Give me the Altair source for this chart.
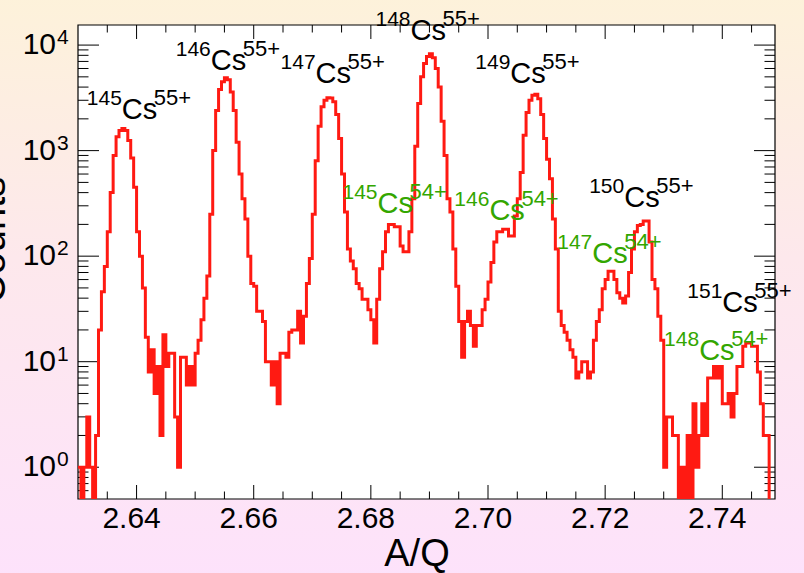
import altair as alt
import pandas as pd

FONT = "Liberation Sans"
RED = "#ff1a12"
GREEN = "#33a600"

# ---------------- data ----------------
bin_start = 2.63
bin_width = 0.0005
counts = [
    1, 0, 1, 3, 1, 0, 2, 20, 46, 80,
    170, 400, 900, 1350, 1550, 1620, 1550, 1250, 850, 450,
    170, 100, 50, 17, 8, 13, 5, 9, 2, 18,
    9, 12, 12, 3, 1, 11, 11, 6, 9, 6,
    12, 16, 25, 40, 65, 250, 1000, 2400, 3800, 4500,
    4900, 4700, 3600, 2400, 1200, 600, 350, 225, 100, 55,
    52, 30, 30, 24, 10, 10, 6, 10, 4, 12,
    12, 11, 19, 20, 20, 30, 15, 27, 55, 95,
    250, 800, 1700, 2600, 3000, 3170, 3150, 2900, 2200, 1300,
    600, 262, 117, 90, 76, 55, 49, 39, 39, 31,
    25, 15, 39, 76, 110, 170, 200, 200, 190, 190,
    125, 110, 110, 170, 350, 1100, 2800, 5000, 6700, 7800,
    8300, 7600, 6000, 4000, 1900, 900, 350, 262, 117, 52,
    24, 11, 24, 30, 22, 14, 22, 22, 31, 39,
    57, 87, 136, 170, 170, 180, 180, 155, 155, 240,
    350, 620, 1400, 2300, 3000, 3350, 3430, 3100, 2200, 1300,
    830, 540, 225, 117, 30, 22, 19, 16, 13, 11,
    7, 8, 10, 10, 7, 8, 16, 24, 31, 49,
    60, 72, 72, 60, 45, 40, 36, 42, 70, 117,
    170, 195, 200, 215, 215, 136, 60, 49, 27, 16,
    1, 3, 3, 2, 2, 0, 1, 0, 2, 0,
    4, 1, 2, 4, 2, 7, 7, 9, 7, 9,
    4, 4, 5, 3, 5, 9, 9, 14, 15, 15,
    14, 14, 8, 4, 2, 2, 0, 0,
]

x_tick_values = [2.64, 2.66, 2.68, 2.70, 2.72, 2.74]
x_tick_text = ["2.64", "2.66", "2.68", "2.70", "2.72", "2.74"]
x_minor = [2.635, 2.645, 2.65, 2.655, 2.665, 2.67, 2.675, 2.685, 2.69, 2.695,
           2.705, 2.71, 2.715, 2.725, 2.73, 2.735, 2.745]
y_major = [1, 10, 100, 1000, 10000]
y_exponents = ["0", "1", "2", "3", "4"]
y_minor = [0.6, 0.7, 0.8, 0.9,
           2, 3, 4, 5, 6, 7, 8, 9,
           20, 30, 40, 50, 60, 70, 80, 90,
           200, 300, 400, 500, 600, 700, 800, 900,
           2000, 3000, 4000, 5000, 6000, 7000, 8000, 9000]
x_title = "A/Q"
y_title = "Counts"

lab_x = [2.63766, 2.65284, 2.67074, 2.68694, 2.70399, 2.72343, 2.74018,
         2.68131, 2.70041, 2.71797, 2.73622]
lab_y = [1990, 5800, 4370, 11170, 4370, 292, 29.6,
         256, 220, 86, 10.4]
lab_mass = ["145", "146", "147", "148", "149", "150", "151",
            "145", "146", "147", "148"]
lab_charge = ["55+", "55+", "55+", "55+", "55+", "55+", "55+",
              "54+", "54+", "54+", "54+"]
lab_elem = ["Cs"] * 11
lab_color = ["black"] * 7 + [GREEN] * 4

# ---------------- tables ----------------
n = len(counts)
edges = [bin_start + bin_width * i for i in range(n + 1)]
hist = pd.DataFrame({"x": edges, "count": counts + [counts[-1]]})
ann = pd.DataFrame({"x": lab_x, "y": lab_y, "mass": lab_mass, "charge": lab_charge,
                    "elem": lab_elem, "color": lab_color})
ylab = pd.DataFrame({"v": y_major, "e": y_exponents})
xlab = pd.DataFrame({"v": x_tick_values, "t": x_tick_text})
one = pd.DataFrame({"a": [0]})

W, H = 697, 474
xs = alt.Scale(domain=[2.63, 2.749], nice=False, zero=False)
ys = alt.Scale(type="log", domain=[0.5, 15500], nice=False)

# ---------------- layers ----------------
bg = alt.Chart(one).mark_rect(
    fill=alt.Gradient(gradient="linear", x1=0, x2=0, y1=0, y2=1,
                      stops=[alt.GradientStop(color="#fdf2da", offset=0),
                             alt.GradientStop(color="#fde8ec", offset=0.45),
                             alt.GradientStop(color="#fde2fb", offset=1)])
).encode(x=alt.value(-80), x2=alt.value(W + 40), y=alt.value(-30), y2=alt.value(H + 80))

frame = alt.Chart(one).mark_rect(fill="white", stroke="black", strokeWidth=1.2).encode(
    x=alt.value(0), x2=alt.value(W), y=alt.value(0), y2=alt.value(H))


def vticks(vals, y1, y2):
    return alt.Chart(pd.DataFrame({"v": vals})).mark_rule(color="black", strokeWidth=1).encode(
        x=alt.X("v:Q", scale=xs, axis=None), y=alt.value(y1), y2=alt.value(y2))


def hticks(vals, x1, x2):
    return alt.Chart(pd.DataFrame({"v": vals})).mark_rule(color="black", strokeWidth=1).encode(
        y=alt.Y("v:Q", scale=ys, axis=None), x=alt.value(x1), x2=alt.value(x2))


ticks = [
    vticks(x_tick_values, H, H - 14), vticks(x_minor, H, H - 7.5),
    vticks(x_tick_values, 0, 14), vticks(x_minor, 0, 7.5),
    hticks(y_major, 0, 21), hticks(y_minor, 0, 10.5),
    hticks(y_major, W, W - 21), hticks(y_minor, W, W - 10.5),
]

line = alt.Chart(hist).transform_calculate(
    c="max(datum.count, 0.01)"
).mark_line(interpolate="step-after", color=RED, strokeWidth=3, clip=True).encode(
    x=alt.X("x:Q", scale=xs, axis=None),
    y=alt.Y("c:Q", scale=ys, axis=None),
)

xtext = alt.Chart(xlab).mark_text(
    align="center", baseline="alphabetic", dx=-5, font=FONT, fontSize=30, color="black"
).encode(x=alt.X("v:Q", scale=xs, axis=None), y=alt.value(H + 28.5), text="t:N")
xtitle = alt.Chart(one).mark_text(
    align="center", baseline="alphabetic", font=FONT, fontSize=38, color="black"
).encode(x=alt.value(339), y=alt.value(H + 67), text=alt.value(x_title))

ytext10 = alt.Chart(ylab).mark_text(
    align="right", baseline="alphabetic", dy=9, font=FONT, fontSize=30, color="black"
).encode(y=alt.Y("v:Q", scale=ys, axis=None), x=alt.value(-22), text=alt.value("10"))
ytextexp = alt.Chart(ylab).mark_text(
    align="left", baseline="alphabetic", dy=-1, font=FONT, fontSize=21, color="black"
).encode(y=alt.Y("v:Q", scale=ys, axis=None), x=alt.value(-21), text="e:N")

ytitle = alt.Chart(one).mark_text(
    align="center", baseline="alphabetic", angle=270, font=FONT, fontSize=40, color="black"
).encode(x=alt.value(-73), y=alt.value(215), text=alt.value(y_title))

enc = dict(x=alt.X("x:Q", scale=xs, axis=None), y=alt.Y("y:Q", scale=ys, axis=None),
           color=alt.Color("color:N", scale=None))
a_mass = alt.Chart(ann).mark_text(align="right", baseline="alphabetic", dx=-1, dy=-14,
                                  font=FONT, fontSize=21).encode(text="mass:N", **enc)
a_elem = alt.Chart(ann).mark_text(align="left", baseline="alphabetic", dx=-1,
                                  font=FONT, fontSize=29).encode(text="elem:N", **enc)
a_charge = alt.Chart(ann).mark_text(align="left", baseline="alphabetic", dx=31, dy=-14,
                                    font=FONT, fontSize=22).encode(text="charge:N", **enc)

chart = alt.layer(
    bg, frame, *ticks, line, xtext, xtitle, ytext10, ytextexp, ytitle,
    a_mass, a_elem, a_charge
).properties(
    width=W, height=H,
    autosize=alt.AutoSizeParams(type="none"),
    padding={"left": 78, "top": 25, "right": 29, "bottom": 74},
    background="#fde8ec",
).configure_view(stroke=None)

chart.save("out.html", embed_options={"renderer": "svg", "actions": False})
